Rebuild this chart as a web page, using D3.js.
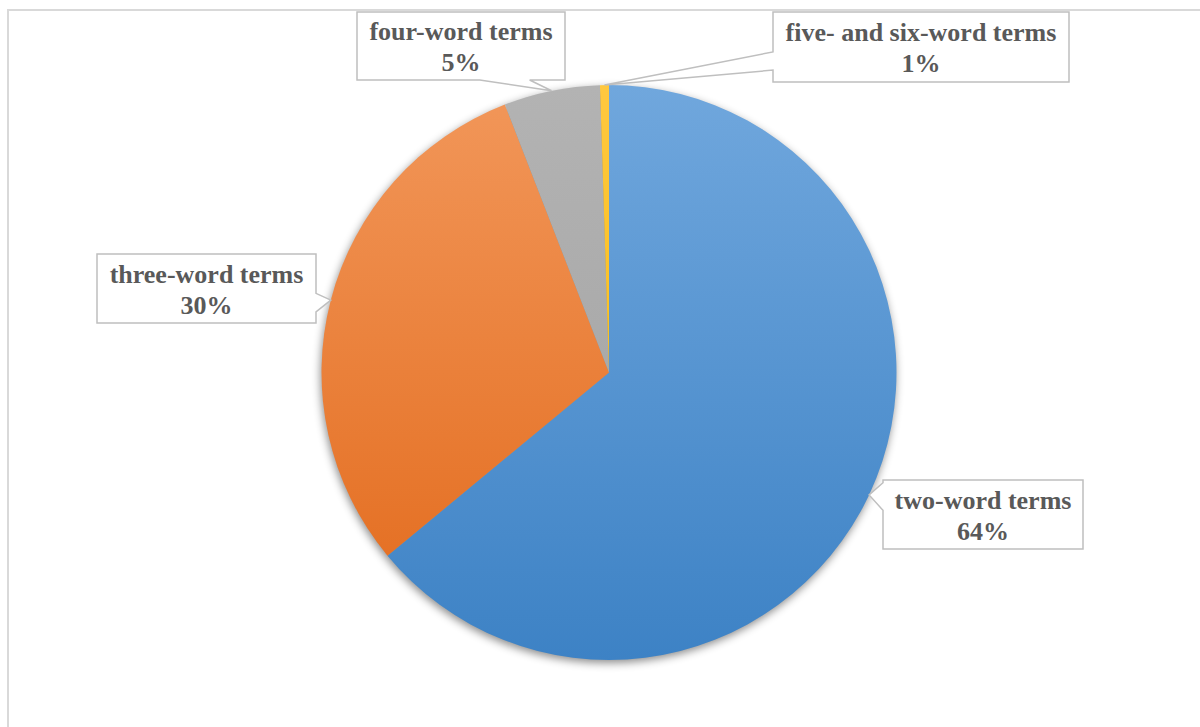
<!DOCTYPE html>
<html>
<head>
<meta charset="utf-8">
<script src="https://cdn.jsdelivr.net/npm/d3@7"></script>
<style>
  body { margin: 0; background: #fff; }
  svg { display: block; }
  .lbl { font-family: "Liberation Serif", "Times New Roman", serif; font-weight: bold; font-size: 26px; fill: #595959; }
</style>
</head>
<body>
<svg id="chart"></svg>
<script>
// данные диаграммы
const categories = ["two-word terms", "three-word terms", "four-word terms", "five- and six-word terms"];
const shares = [64.0, 30.1, 5.4, 0.5];

// цвета: светлый верх, тёмный низ
const colorsTop = ["#70a7dd", "#f2975a", "#b3b3b3", "#ffc83f"];
const colorsBottom = ["#3d82c5", "#e2691a", "#a0a0a0", "#f4b700"];

// положение подписей (рамка и основание выноски)
const labelBoxes = [
  { x: 883, y: 480, w: 200, h: 69, side: "left", b0: 0.04, b1: 0.44 },
  { x: 97, y: 254, w: 219, h: 69, side: "right", b0: 0.57, b1: 0.84 },
  { x: 357, y: 12, w: 208, h: 68, side: "bottom", b0: 0.59, b1: 0.83 },
  { x: 773, y: 12, w: 296, h: 70, side: "left", b0: 0.57, b1: 0.83 }
];

const width = 1200;
const height = 727;
const cx = 609;
const cy = 372.5;
const radius = 287.5;

let svg = d3.select("#chart").attr("width", width).attr("height", height);

// рамка области диаграммы
svg.append("rect")
  .attr("x", 8).attr("y", 10)
  .attr("width", 1210).attr("height", 740)
  .attr("fill", "#fff")
  .attr("stroke", "#d9d9d9")
  .attr("stroke-width", 2);

let defs = svg.append("defs");

// тень круга
let shadow = defs.append("filter")
  .attr("id", "shadow")
  .attr("color-interpolation-filters", "sRGB")
  .attr("x", "-20%").attr("y", "-20%")
  .attr("width", "140%").attr("height", "140%");
shadow.append("feDropShadow")
  .attr("dx", -1).attr("dy", 3)
  .attr("stdDeviation", 4)
  .attr("flood-color", "#000")
  .attr("flood-opacity", 0.45);

// градиенты для секторов (координаты внутри группы круга)
categories.forEach(function (d, i) {
  let g = defs.append("linearGradient")
    .attr("id", "grad" + i)
    .attr("gradientUnits", "userSpaceOnUse")
    .attr("x1", 0).attr("y1", -radius)
    .attr("x2", 0).attr("y2", radius);
  g.append("stop").attr("offset", "0%").attr("stop-color", colorsTop[i]);
  g.append("stop").attr("offset", "100%").attr("stop-color", colorsBottom[i]);
});

let pie = d3.pie().sort(null).value((d) => d);
let arcs = pie(shares);
let arc = d3.arc().innerRadius(0).outerRadius(radius);

let pieGroup = svg.append("g")
  .attr("transform", `translate(${cx}, ${cy})`)
  .attr("filter", "url(#shadow)");

pieGroup.selectAll("path")
  .data(arcs)
  .enter()
  .append("path")
  .attr("d", arc)
  .attr("fill", (d, i) => `url(#grad${i})`);

// подписи-выноски
let total = d3.sum(shares);
arcs.forEach(function (a, i) {
  let box = labelBoxes[i];
  let mid = (a.startAngle + a.endAngle) / 2;
  let tipX = cx + radius * Math.sin(mid);
  let tipY = cy - radius * Math.cos(mid);
  let x0 = box.x, y0 = box.y, x1 = box.x + box.w, y1 = box.y + box.h;
  let pts;
  if (box.side === "left") {
    let p0 = y0 + box.h * box.b0, p1 = y0 + box.h * box.b1;
    pts = [[x0, y0], [x1, y0], [x1, y1], [x0, y1], [x0, p1], [tipX, tipY], [x0, p0]];
  } else if (box.side === "right") {
    let p0 = y0 + box.h * box.b0, p1 = y0 + box.h * box.b1;
    pts = [[x0, y0], [x1, y0], [x1, p0], [tipX, tipY], [x1, p1], [x1, y1], [x0, y1]];
  } else {
    let p0 = x0 + box.w * box.b0, p1 = x0 + box.w * box.b1;
    pts = [[x0, y0], [x1, y0], [x1, y1], [p1, y1], [tipX, tipY], [p0, y1], [x0, y1]];
  }
  svg.append("path")
    .attr("d", "M" + pts.map((p) => p.join(",")).join("L") + "Z")
    .attr("fill", "#fff")
    .attr("stroke", "#bfbfbf")
    .attr("stroke-width", 1.5);

  let tx = x0 + box.w / 2;
  let tcy = y0 + box.h / 2;
  let text = svg.append("text")
    .attr("class", "lbl")
    .attr("text-anchor", "middle");
  text.append("tspan").attr("x", tx).attr("y", tcy - 6).text(categories[i]);
  text.append("tspan").attr("x", tx).attr("y", tcy + 25)
    .text(Math.round(shares[i] / total * 100) + "%");
});
</script>
</body>
</html>
